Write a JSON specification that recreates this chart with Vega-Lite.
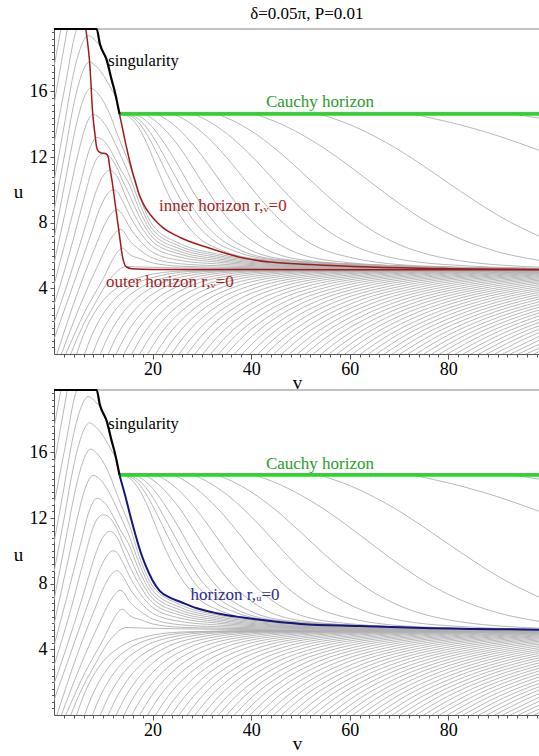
{
"$schema":"https://vega.github.io/schema/vega-lite/v6.json",
"autosize":{"type":"pad"},
"padding":{"left":13,"top":5,"right":0,"bottom":0},
"background":"white",
"config":{"view":{"stroke":null},"axis":{"grid":false,"domainColor":"#555","tickColor":"#555","labelFont":"Liberation Serif","labelFontSize":18,"labelColor":"#000","titleFont":"Liberation Serif","titleFontSize":19,"titleFontWeight":"normal","titleColor":"#000"}},
"datasets":{
"grey":[
{"k":"T1","v":0,"u":17.5},{"k":"T1","v":1.4,"u":19.8},{"k":"T1","v":1.7,"u":20.3},
{"k":"T2","v":0,"u":15.2},{"k":"T2","v":2.7,"u":19.8},{"k":"T2","v":3.0,"u":20.3},
{"k":"T3","v":0,"u":12.8},{"k":"T3","v":2.3,"u":16.4},{"k":"T3","v":4.4,"u":19.6},{"k":"T3","v":5.5,"u":20.3},
{"k":"H1","v":0,"u":10.5},{"k":"H1","v":2,"u":13.8},{"k":"H1","v":3.9,"u":17.0},{"k":"H1","v":5.1,"u":18.4},{"k":"H1","v":6.1,"u":19.15},{"k":"H1","v":6.9,"u":19.4},{"k":"H1","v":7.9,"u":19.25},{"k":"H1","v":8.8,"u":18.95},{"k":"H1","v":9.45,"u":18.78},
{"k":"H2","v":0,"u":8.7},{"k":"H2","v":2,"u":11.9},{"k":"H2","v":4.15,"u":15.4},{"k":"H2","v":5.35,"u":16.8},{"k":"H2","v":6.35,"u":17.55},{"k":"H2","v":7.15,"u":17.8},{"k":"H2","v":8.3,"u":17.6},{"k":"H2","v":9.5,"u":17.2},{"k":"H2","v":10.6,"u":16.7},{"k":"H2","v":11.6,"u":16.15},{"k":"H2","v":12.5,"u":15.7},
{"k":"H3","v":0,"u":7.0},{"k":"H3","v":2.2,"u":10.4},{"k":"H3","v":4.4,"u":13.8},{"k":"H3","v":5.6,"u":15.2},{"k":"H3","v":6.6,"u":15.95},{"k":"H3","v":7.4,"u":16.2},{"k":"H3","v":8.5,"u":16.0},{"k":"H3","v":9.7,"u":15.55},{"k":"H3","v":10.8,"u":14.95},{"k":"H3","v":11.8,"u":14.25},{"k":"H3","v":12.7,"u":13.5},{"k":"H3","v":13.5,"u":12.9},{"k":"H3","v":14.3,"u":12.3},{"k":"H3","v":15,"u":11.8},{"k":"H3","v":17.6,"u":9.4},{"k":"H3","v":20,"u":7.85},{"k":"H3","v":25.6,"u":6.72},{"k":"H3","v":33,"u":6.1},{"k":"H3","v":44,"u":5.66},{"k":"H3","v":62,"u":5.39},{"k":"H3","v":98.4,"u":5.195},
{"k":"H4","v":0,"u":5.5},{"k":"H4","v":2.4,"u":8.8},{"k":"H4","v":4.9,"u":12.2},{"k":"H4","v":6.1,"u":13.6},{"k":"H4","v":7.1,"u":14.35},{"k":"H4","v":7.9,"u":14.6},{"k":"H4","v":9.0,"u":14.45},{"k":"H4","v":10.2,"u":14.05},{"k":"H4","v":11.4,"u":13.45},{"k":"H4","v":12.6,"u":12.7},{"k":"H4","v":13.8,"u":11.9},{"k":"H4","v":15,"u":11.1},{"k":"H4","v":17.6,"u":9.0},{"k":"H4","v":20,"u":7.6},{"k":"H4","v":25.6,"u":6.56},{"k":"H4","v":33,"u":6.0},{"k":"H4","v":44,"u":5.61},{"k":"H4","v":62,"u":5.37},{"k":"H4","v":98.4,"u":5.19},
{"k":"H5","v":0,"u":4.2},{"k":"H5","v":2.8,"u":7.4},{"k":"H5","v":5.7,"u":10.8},{"k":"H5","v":6.9,"u":12.2},{"k":"H5","v":7.9,"u":12.95},{"k":"H5","v":8.7,"u":13.2},{"k":"H5","v":9.8,"u":13.05},{"k":"H5","v":11.0,"u":12.65},{"k":"H5","v":12.2,"u":12.0},{"k":"H5","v":13.6,"u":11.2},{"k":"H5","v":15,"u":10.5},{"k":"H5","v":17.6,"u":8.6},{"k":"H5","v":20,"u":7.35},{"k":"H5","v":25.6,"u":6.4},{"k":"H5","v":33,"u":5.9},{"k":"H5","v":44,"u":5.55},{"k":"H5","v":62,"u":5.34},{"k":"H5","v":98.4,"u":5.185},
{"k":"H6","v":0,"u":3.0},{"k":"H6","v":3.2,"u":6.2},{"k":"H6","v":6.2,"u":9.6},{"k":"H6","v":7.8,"u":11.3},{"k":"H6","v":8.9,"u":12.0},{"k":"H6","v":10.0,"u":12.2},{"k":"H6","v":11.0,"u":12.1},{"k":"H6","v":12.0,"u":11.75},{"k":"H6","v":13.0,"u":11.2},{"k":"H6","v":14.0,"u":10.5},{"k":"H6","v":15,"u":9.9},{"k":"H6","v":17.6,"u":8.2},{"k":"H6","v":20,"u":7.1},{"k":"H6","v":25.6,"u":6.24},{"k":"H6","v":33,"u":5.8},{"k":"H6","v":44,"u":5.5},{"k":"H6","v":62,"u":5.31},{"k":"H6","v":98.4,"u":5.18},
{"k":"H7","v":0,"u":1.9},{"k":"H7","v":3.5,"u":5.0},{"k":"H7","v":6.8,"u":8.2},{"k":"H7","v":8.3,"u":9.7},{"k":"H7","v":9.5,"u":10.6},{"k":"H7","v":10.5,"u":11.05},{"k":"H7","v":11.3,"u":11.2},{"k":"H7","v":12.2,"u":11.05},{"k":"H7","v":13.1,"u":10.65},{"k":"H7","v":14.0,"u":10.0},{"k":"H7","v":15,"u":9.3},{"k":"H7","v":17.6,"u":7.8},{"k":"H7","v":20,"u":6.85},{"k":"H7","v":25.6,"u":6.08},{"k":"H7","v":33,"u":5.7},{"k":"H7","v":44,"u":5.45},{"k":"H7","v":62,"u":5.29},{"k":"H7","v":98.4,"u":5.175},
{"k":"H8","v":0,"u":0.9},{"k":"H8","v":4,"u":4.3},{"k":"H8","v":7.5,"u":7.3},{"k":"H8","v":9.2,"u":8.8},{"k":"H8","v":10.5,"u":9.6},{"k":"H8","v":11.3,"u":9.9},{"k":"H8","v":12.0,"u":10.0},{"k":"H8","v":12.8,"u":9.9},{"k":"H8","v":13.6,"u":9.5},{"k":"H8","v":14.3,"u":9.1},{"k":"H8","v":15,"u":8.65},{"k":"H8","v":17.6,"u":7.35},{"k":"H8","v":20,"u":6.55},{"k":"H8","v":25.6,"u":5.9},{"k":"H8","v":33,"u":5.6},{"k":"H8","v":44,"u":5.4},{"k":"H8","v":62,"u":5.27},{"k":"H8","v":98.4,"u":5.17},
{"k":"H9","v":0.6,"u":0},{"k":"H9","v":4.5,"u":3.5},{"k":"H9","v":8.2,"u":6.4},{"k":"H9","v":10.3,"u":7.9},{"k":"H9","v":11.6,"u":8.55},{"k":"H9","v":12.7,"u":8.8},{"k":"H9","v":13.5,"u":8.65},{"k":"H9","v":14.3,"u":8.3},{"k":"H9","v":15,"u":7.9},{"k":"H9","v":17.6,"u":6.85},{"k":"H9","v":20,"u":6.2},{"k":"H9","v":25.6,"u":5.7},{"k":"H9","v":33,"u":5.49},{"k":"H9","v":44,"u":5.35},{"k":"H9","v":62,"u":5.25},{"k":"H9","v":98.4,"u":5.165},
{"k":"H10","v":1.5,"u":0},{"k":"H10","v":5.5,"u":3.1},{"k":"H10","v":9.2,"u":5.6},{"k":"H10","v":11.3,"u":6.9},{"k":"H10","v":12.5,"u":7.4},{"k":"H10","v":13.4,"u":7.6},{"k":"H10","v":14.2,"u":7.45},{"k":"H10","v":15,"u":7.05},{"k":"H10","v":17.6,"u":6.3},{"k":"H10","v":20,"u":5.85},{"k":"H10","v":25.6,"u":5.5},{"k":"H10","v":33,"u":5.38},{"k":"H10","v":44,"u":5.3},{"k":"H10","v":62,"u":5.23},{"k":"H10","v":98.4,"u":5.16},
{"k":"H11","v":2.4,"u":0},{"k":"H11","v":6.3,"u":2.6},{"k":"H11","v":10,"u":4.6},{"k":"H11","v":12,"u":5.8},{"k":"H11","v":13.1,"u":6.3},{"k":"H11","v":14.0,"u":6.45},{"k":"H11","v":14.6,"u":6.3},{"k":"H11","v":15.2,"u":6.1},{"k":"H11","v":17.6,"u":5.8},{"k":"H11","v":20,"u":5.55},{"k":"H11","v":25.6,"u":5.35},{"k":"H11","v":33,"u":5.29},{"k":"H11","v":44,"u":5.25},{"k":"H11","v":62,"u":5.21},{"k":"H11","v":98.4,"u":5.155},
{"k":"S","v":3.4,"u":0},{"k":"S","v":5.5,"u":1.5},{"k":"S","v":8,"u":2.9},{"k":"S","v":10.5,"u":4.2},{"k":"S","v":12.5,"u":4.95},{"k":"S","v":13.8,"u":5.25},{"k":"S","v":14.6,"u":5.33},{"k":"S","v":17.6,"u":5.3},{"k":"S","v":25.6,"u":5.25},{"k":"S","v":44,"u":5.2},{"k":"S","v":98.4,"u":5.15},
{"k":"B1","v":13.6,"u":14.6},{"k":"B1","v":14.6,"u":14.54},{"k":"B1","v":16,"u":14.25},{"k":"B1","v":17.5,"u":13.62},{"k":"B1","v":19,"u":12.72},{"k":"B1","v":21,"u":11.24},{"k":"B1","v":23,"u":9.84},{"k":"B1","v":25.6,"u":8.43},{"k":"B1","v":29,"u":7.17},{"k":"B1","v":34,"u":6.32},{"k":"B1","v":42,"u":5.76},{"k":"B1","v":62,"u":5.43},{"k":"B1","v":98.4,"u":5.2},
{"k":"B2","v":14.3,"u":14.6},{"k":"B2","v":15.5,"u":14.5},{"k":"B2","v":17,"u":14.16},{"k":"B2","v":19,"u":13.3},{"k":"B2","v":21,"u":12.17},{"k":"B2","v":23,"u":10.94},{"k":"B2","v":25.6,"u":9.46},{"k":"B2","v":28,"u":8.27},{"k":"B2","v":32,"u":7.0},{"k":"B2","v":37,"u":6.23},{"k":"B2","v":45,"u":5.73},{"k":"B2","v":62,"u":5.45},{"k":"B2","v":98.4,"u":5.2},
{"k":"B3","v":15.2,"u":14.6},{"k":"B3","v":16.5,"u":14.44},{"k":"B3","v":18,"u":14.07},{"k":"B3","v":20,"u":13.28},{"k":"B3","v":22,"u":12.25},{"k":"B3","v":24,"u":11.16},{"k":"B3","v":26,"u":10.06},{"k":"B3","v":29,"u":8.55},{"k":"B3","v":33,"u":7.2},{"k":"B3","v":38,"u":6.3},{"k":"B3","v":45,"u":5.77},{"k":"B3","v":62,"u":5.46},{"k":"B3","v":98.4,"u":5.2},
{"k":"B4","v":16.5,"u":14.6},{"k":"B4","v":18,"u":14.37},{"k":"B4","v":20,"u":13.81},{"k":"B4","v":22,"u":13.01},{"k":"B4","v":24,"u":12.08},{"k":"B4","v":26,"u":11.06},{"k":"B4","v":28,"u":10.0},{"k":"B4","v":31,"u":8.6},{"k":"B4","v":35,"u":7.24},{"k":"B4","v":40,"u":6.31},{"k":"B4","v":48,"u":5.72},{"k":"B4","v":65,"u":5.41},{"k":"B4","v":98.4,"u":5.2},
{"k":"B5","v":18.5,"u":14.6},{"k":"B5","v":20,"u":14.33},{"k":"B5","v":22,"u":13.82},{"k":"B5","v":24,"u":13.16},{"k":"B5","v":26,"u":12.37},{"k":"B5","v":29,"u":10.97},{"k":"B5","v":32,"u":9.57},{"k":"B5","v":36,"u":8.0},{"k":"B5","v":42,"u":6.55},{"k":"B5","v":50,"u":5.75},{"k":"B5","v":65,"u":5.42},{"k":"B5","v":98.4,"u":5.2},
{"k":"B6","v":21,"u":14.6},{"k":"B6","v":23,"u":14.25},{"k":"B6","v":26,"u":13.49},{"k":"B6","v":29,"u":12.47},{"k":"B6","v":32,"u":11.26},{"k":"B6","v":35,"u":9.98},{"k":"B6","v":39,"u":8.43},{"k":"B6","v":44,"u":7.03},{"k":"B6","v":50,"u":6.08},{"k":"B6","v":60,"u":5.56},{"k":"B6","v":75,"u":5.32},{"k":"B6","v":98.4,"u":5.2},
{"k":"B7","v":24.5,"u":14.6},{"k":"B7","v":27,"u":14.19},{"k":"B7","v":30,"u":13.51},{"k":"B7","v":34,"u":12.32},{"k":"B7","v":38,"u":10.88},{"k":"B7","v":42,"u":9.41},{"k":"B7","v":47,"u":7.84},{"k":"B7","v":52,"u":6.74},{"k":"B7","v":60,"u":5.89},{"k":"B7","v":75,"u":5.36},{"k":"B7","v":98.4,"u":5.21},
{"k":"B8","v":28.5,"u":14.6},{"k":"B8","v":31,"u":14.24},{"k":"B8","v":35,"u":13.44},{"k":"B8","v":40,"u":12.09},{"k":"B8","v":45,"u":10.48},{"k":"B8","v":50,"u":8.9},{"k":"B8","v":55,"u":7.62},{"k":"B8","v":60,"u":6.72},{"k":"B8","v":70,"u":5.78},{"k":"B8","v":85,"u":5.35},{"k":"B8","v":98.4,"u":5.22},
{"k":"B9","v":33.3,"u":14.6},{"k":"B9","v":36,"u":14.26},{"k":"B9","v":40,"u":13.59},{"k":"B9","v":45,"u":12.48},{"k":"B9","v":50,"u":11.15},{"k":"B9","v":55,"u":9.76},{"k":"B9","v":60,"u":8.49},{"k":"B9","v":65,"u":7.44},{"k":"B9","v":70,"u":6.67},{"k":"B9","v":80,"u":5.8},{"k":"B9","v":98.4,"u":5.29},
{"k":"B10","v":40.9,"u":14.6},{"k":"B10","v":45,"u":14.15},{"k":"B10","v":50,"u":13.41},{"k":"B10","v":55,"u":12.5},{"k":"B10","v":60,"u":11.43},{"k":"B10","v":65,"u":10.29},{"k":"B10","v":70,"u":9.18},{"k":"B10","v":75,"u":8.17},{"k":"B10","v":80,"u":7.35},{"k":"B10","v":90,"u":6.23},{"k":"B10","v":98.4,"u":5.71},
{"k":"B11","v":54,"u":14.6},{"k":"B11","v":60,"u":13.98},{"k":"B11","v":65,"u":13.27},{"k":"B11","v":70,"u":12.43},{"k":"B11","v":75,"u":11.45},{"k":"B11","v":80,"u":10.42},{"k":"B11","v":85,"u":9.41},{"k":"B11","v":90,"u":8.46},{"k":"B11","v":98.4,"u":7.18},
{"k":"B12","v":73,"u":14.6},{"k":"B12","v":80,"u":14.14},{"k":"B12","v":90,"u":13.3},{"k":"B12","v":98.4,"u":12.41},
{"k":"B13","v":93.6,"u":14.6},{"k":"B13","v":98.4,"u":14.37},
{"k":"L1","v":4.6,"u":0},{"k":"L1","v":5.95,"u":1.14},{"k":"L1","v":7.83,"u":2.32},{"k":"L1","v":9.98,"u":3.26},{"k":"L1","v":13.21,"u":4.11},{"k":"L1","v":18.05,"u":4.73},{"k":"L1","v":26.12,"u":5.06},{"k":"L1","v":42.26,"u":5.145},{"k":"L1","v":98.4,"u":5.15},
{"k":"L2","v":6.2,"u":0},{"k":"L2","v":7.67,"u":1.14},{"k":"L2","v":9.72,"u":2.32},{"k":"L2","v":12.06,"u":3.26},{"k":"L2","v":15.58,"u":4.11},{"k":"L2","v":20.85,"u":4.73},{"k":"L2","v":29.64,"u":5.06},{"k":"L2","v":47.22,"u":5.145},{"k":"L2","v":98.4,"u":5.15},
{"k":"L3","v":7.8,"u":0},{"k":"L3","v":9.39,"u":1.14},{"k":"L3","v":11.6,"u":2.32},{"k":"L3","v":14.14,"u":3.26},{"k":"L3","v":17.94,"u":4.11},{"k":"L3","v":23.65,"u":4.73},{"k":"L3","v":33.16,"u":5.06},{"k":"L3","v":52.18,"u":5.145},{"k":"L3","v":98.4,"u":5.15},
{"k":"L4","v":9.4,"u":0},{"k":"L4","v":11.11,"u":1.14},{"k":"L4","v":13.49,"u":2.32},{"k":"L4","v":16.22,"u":3.26},{"k":"L4","v":20.31,"u":4.11},{"k":"L4","v":26.45,"u":4.73},{"k":"L4","v":36.68,"u":5.06},{"k":"L4","v":57.14,"u":5.145},{"k":"L4","v":98.4,"u":5.15},
{"k":"L5","v":11,"u":0},{"k":"L5","v":12.83,"u":1.14},{"k":"L5","v":15.38,"u":2.32},{"k":"L5","v":18.3,"u":3.26},{"k":"L5","v":22.68,"u":4.11},{"k":"L5","v":29.25,"u":4.73},{"k":"L5","v":40.2,"u":5.06},{"k":"L5","v":62.1,"u":5.145},{"k":"L5","v":98.4,"u":5.15},
{"k":"L6","v":12.6,"u":0},{"k":"L6","v":14.55,"u":1.14},{"k":"L6","v":17.27,"u":2.32},{"k":"L6","v":20.38,"u":3.26},{"k":"L6","v":25.05,"u":4.11},{"k":"L6","v":32.05,"u":4.73},{"k":"L6","v":43.72,"u":5.06},{"k":"L6","v":67.06,"u":5.145},{"k":"L6","v":98.4,"u":5.15},
{"k":"L7","v":14.2,"u":0},{"k":"L7","v":16.27,"u":1.14},{"k":"L7","v":19.16,"u":2.32},{"k":"L7","v":22.46,"u":3.26},{"k":"L7","v":27.42,"u":4.11},{"k":"L7","v":34.85,"u":4.73},{"k":"L7","v":47.24,"u":5.06},{"k":"L7","v":72.02,"u":5.145},{"k":"L7","v":98.4,"u":5.15},
{"k":"L8","v":15.8,"u":0},{"k":"L8","v":17.99,"u":1.14},{"k":"L8","v":21.04,"u":2.32},{"k":"L8","v":24.54,"u":3.26},{"k":"L8","v":29.78,"u":4.11},{"k":"L8","v":37.65,"u":4.73},{"k":"L8","v":50.76,"u":5.06},{"k":"L8","v":76.98,"u":5.145},{"k":"L8","v":98.4,"u":5.15},
{"k":"L9","v":17.4,"u":0},{"k":"L9","v":19.71,"u":1.14},{"k":"L9","v":22.93,"u":2.32},{"k":"L9","v":26.62,"u":3.26},{"k":"L9","v":32.15,"u":4.11},{"k":"L9","v":40.45,"u":4.73},{"k":"L9","v":54.28,"u":5.06},{"k":"L9","v":81.94,"u":5.145},{"k":"L9","v":98.4,"u":5.15},
{"k":"L10","v":19,"u":0},{"k":"L10","v":21.43,"u":1.14},{"k":"L10","v":24.82,"u":2.32},{"k":"L10","v":28.7,"u":3.26},{"k":"L10","v":34.52,"u":4.11},{"k":"L10","v":43.25,"u":4.73},{"k":"L10","v":57.8,"u":5.06},{"k":"L10","v":86.9,"u":5.145},{"k":"L10","v":98.4,"u":5.15},
{"k":"L11","v":20.6,"u":0},{"k":"L11","v":23.15,"u":1.14},{"k":"L11","v":26.71,"u":2.32},{"k":"L11","v":30.78,"u":3.26},{"k":"L11","v":36.89,"u":4.11},{"k":"L11","v":46.05,"u":4.73},{"k":"L11","v":61.32,"u":5.06},{"k":"L11","v":91.86,"u":5.145},{"k":"L11","v":98.4,"u":5.15},
{"k":"L12","v":22.2,"u":0},{"k":"L12","v":24.87,"u":1.14},{"k":"L12","v":28.6,"u":2.32},{"k":"L12","v":32.86,"u":3.26},{"k":"L12","v":39.26,"u":4.11},{"k":"L12","v":48.85,"u":4.73},{"k":"L12","v":64.84,"u":5.06},{"k":"L12","v":96.82,"u":5.145},
{"k":"L13","v":23.8,"u":0},{"k":"L13","v":26.59,"u":1.14},{"k":"L13","v":30.48,"u":2.32},{"k":"L13","v":34.94,"u":3.26},{"k":"L13","v":41.62,"u":4.11},{"k":"L13","v":51.65,"u":4.73},{"k":"L13","v":68.36,"u":5.06},{"k":"L13","v":101.78,"u":5.145},
{"k":"L14","v":25.4,"u":0},{"k":"L14","v":28.31,"u":1.14},{"k":"L14","v":32.37,"u":2.32},{"k":"L14","v":37.02,"u":3.26},{"k":"L14","v":43.99,"u":4.11},{"k":"L14","v":54.45,"u":4.73},{"k":"L14","v":71.88,"u":5.06},{"k":"L14","v":106.74,"u":5.145},
{"k":"L15","v":27,"u":0},{"k":"L15","v":30.03,"u":1.14},{"k":"L15","v":34.26,"u":2.32},{"k":"L15","v":39.1,"u":3.26},{"k":"L15","v":46.36,"u":4.11},{"k":"L15","v":57.25,"u":4.73},{"k":"L15","v":75.4,"u":5.06},{"k":"L15","v":111.7,"u":5.145},
{"k":"L16","v":28.6,"u":0},{"k":"L16","v":31.75,"u":1.14},{"k":"L16","v":36.15,"u":2.32},{"k":"L16","v":41.18,"u":3.26},{"k":"L16","v":48.73,"u":4.11},{"k":"L16","v":60.05,"u":4.73},{"k":"L16","v":78.92,"u":5.06},{"k":"L16","v":116.66,"u":5.145},
{"k":"L17","v":30.2,"u":0},{"k":"L17","v":33.47,"u":1.14},{"k":"L17","v":38.04,"u":2.32},{"k":"L17","v":43.26,"u":3.26},{"k":"L17","v":51.1,"u":4.11},{"k":"L17","v":62.85,"u":4.73},{"k":"L17","v":82.44,"u":5.06},{"k":"L17","v":121.62,"u":5.145},
{"k":"L18","v":31.8,"u":0},{"k":"L18","v":35.19,"u":1.14},{"k":"L18","v":39.92,"u":2.32},{"k":"L18","v":45.34,"u":3.26},{"k":"L18","v":53.46,"u":4.11},{"k":"L18","v":65.65,"u":4.73},{"k":"L18","v":85.96,"u":5.06},{"k":"L18","v":126.58,"u":5.145},
{"k":"L19","v":33.4,"u":0},{"k":"L19","v":36.91,"u":1.14},{"k":"L19","v":41.81,"u":2.32},{"k":"L19","v":47.42,"u":3.26},{"k":"L19","v":55.83,"u":4.11},{"k":"L19","v":68.45,"u":4.73},{"k":"L19","v":89.48,"u":5.06},{"k":"L19","v":131.54,"u":5.145},
{"k":"L20","v":35,"u":0},{"k":"L20","v":38.63,"u":1.14},{"k":"L20","v":43.7,"u":2.32},{"k":"L20","v":49.5,"u":3.26},{"k":"L20","v":58.2,"u":4.11},{"k":"L20","v":71.25,"u":4.73},{"k":"L20","v":93,"u":5.06},{"k":"L20","v":136.5,"u":5.145},
{"k":"L21","v":36.6,"u":0},{"k":"L21","v":40.35,"u":1.14},{"k":"L21","v":45.59,"u":2.32},{"k":"L21","v":51.58,"u":3.26},{"k":"L21","v":60.57,"u":4.11},{"k":"L21","v":74.05,"u":4.73},{"k":"L21","v":96.52,"u":5.06},{"k":"L21","v":141.46,"u":5.145},
{"k":"L22","v":38.2,"u":0},{"k":"L22","v":42.07,"u":1.14},{"k":"L22","v":47.48,"u":2.32},{"k":"L22","v":53.66,"u":3.26},{"k":"L22","v":62.94,"u":4.11},{"k":"L22","v":76.85,"u":4.73},{"k":"L22","v":100.04,"u":5.06},
{"k":"L23","v":39.8,"u":0},{"k":"L23","v":43.79,"u":1.14},{"k":"L23","v":49.36,"u":2.32},{"k":"L23","v":55.74,"u":3.26},{"k":"L23","v":65.3,"u":4.11},{"k":"L23","v":79.65,"u":4.73},{"k":"L23","v":103.56,"u":5.06},
{"k":"L24","v":41.4,"u":0},{"k":"L24","v":45.51,"u":1.14},{"k":"L24","v":51.25,"u":2.32},{"k":"L24","v":57.82,"u":3.26},{"k":"L24","v":67.67,"u":4.11},{"k":"L24","v":82.45,"u":4.73},{"k":"L24","v":107.08,"u":5.06},
{"k":"L25","v":43,"u":0},{"k":"L25","v":47.23,"u":1.14},{"k":"L25","v":53.14,"u":2.32},{"k":"L25","v":59.9,"u":3.26},{"k":"L25","v":70.04,"u":4.11},{"k":"L25","v":85.25,"u":4.73},{"k":"L25","v":110.6,"u":5.06},
{"k":"L26","v":44.6,"u":0},{"k":"L26","v":48.95,"u":1.14},{"k":"L26","v":55.03,"u":2.32},{"k":"L26","v":61.98,"u":3.26},{"k":"L26","v":72.41,"u":4.11},{"k":"L26","v":88.05,"u":4.73},{"k":"L26","v":114.12,"u":5.06},
{"k":"L27","v":46.2,"u":0},{"k":"L27","v":50.67,"u":1.14},{"k":"L27","v":56.92,"u":2.32},{"k":"L27","v":64.06,"u":3.26},{"k":"L27","v":74.78,"u":4.11},{"k":"L27","v":90.85,"u":4.73},{"k":"L27","v":117.64,"u":5.06},
{"k":"L28","v":47.8,"u":0},{"k":"L28","v":52.39,"u":1.14},{"k":"L28","v":58.8,"u":2.32},{"k":"L28","v":66.14,"u":3.26},{"k":"L28","v":77.14,"u":4.11},{"k":"L28","v":93.65,"u":4.73},{"k":"L28","v":121.16,"u":5.06},
{"k":"L29","v":49.4,"u":0},{"k":"L29","v":54.1,"u":1.14},{"k":"L29","v":60.69,"u":2.32},{"k":"L29","v":68.22,"u":3.26},{"k":"L29","v":79.51,"u":4.11},{"k":"L29","v":96.45,"u":4.73},{"k":"L29","v":124.68,"u":5.06},
{"k":"L30","v":51,"u":0},{"k":"L30","v":55.83,"u":1.14},{"k":"L30","v":62.58,"u":2.32},{"k":"L30","v":70.3,"u":3.26},{"k":"L30","v":81.88,"u":4.11},{"k":"L30","v":99.25,"u":4.73},
{"k":"L31","v":52.6,"u":0},{"k":"L31","v":57.55,"u":1.14},{"k":"L31","v":64.47,"u":2.32},{"k":"L31","v":72.38,"u":3.26},{"k":"L31","v":84.25,"u":4.11},{"k":"L31","v":102.05,"u":4.73},
{"k":"L32","v":54.2,"u":0},{"k":"L32","v":59.27,"u":1.14},{"k":"L32","v":66.36,"u":2.32},{"k":"L32","v":74.46,"u":3.26},{"k":"L32","v":86.62,"u":4.11},{"k":"L32","v":104.85,"u":4.73},
{"k":"L33","v":55.8,"u":0},{"k":"L33","v":60.99,"u":1.14},{"k":"L33","v":68.24,"u":2.32},{"k":"L33","v":76.54,"u":3.26},{"k":"L33","v":88.98,"u":4.11},{"k":"L33","v":107.65,"u":4.73},
{"k":"L34","v":57.4,"u":0},{"k":"L34","v":62.71,"u":1.14},{"k":"L34","v":70.13,"u":2.32},{"k":"L34","v":78.62,"u":3.26},{"k":"L34","v":91.35,"u":4.11},{"k":"L34","v":110.45,"u":4.73},
{"k":"L35","v":59,"u":0},{"k":"L35","v":64.43,"u":1.14},{"k":"L35","v":72.02,"u":2.32},{"k":"L35","v":80.7,"u":3.26},{"k":"L35","v":93.72,"u":4.11},{"k":"L35","v":113.25,"u":4.73},
{"k":"L36","v":60.6,"u":0},{"k":"L36","v":66.15,"u":1.14},{"k":"L36","v":73.91,"u":2.32},{"k":"L36","v":82.78,"u":3.26},{"k":"L36","v":96.09,"u":4.11},{"k":"L36","v":116.05,"u":4.73},
{"k":"L37","v":62.2,"u":0},{"k":"L37","v":67.87,"u":1.14},{"k":"L37","v":75.8,"u":2.32},{"k":"L37","v":84.86,"u":3.26},{"k":"L37","v":98.46,"u":4.11},{"k":"L37","v":118.85,"u":4.73},
{"k":"L38","v":63.8,"u":0},{"k":"L38","v":69.59,"u":1.14},{"k":"L38","v":77.68,"u":2.32},{"k":"L38","v":86.94,"u":3.26},{"k":"L38","v":100.82,"u":4.11},
{"k":"L39","v":65.4,"u":0},{"k":"L39","v":71.31,"u":1.14},{"k":"L39","v":79.57,"u":2.32},{"k":"L39","v":89.02,"u":3.26},{"k":"L39","v":103.19,"u":4.11},
{"k":"L40","v":67,"u":0},{"k":"L40","v":73.03,"u":1.14},{"k":"L40","v":81.46,"u":2.32},{"k":"L40","v":91.1,"u":3.26},{"k":"L40","v":105.56,"u":4.11},
{"k":"L41","v":68.6,"u":0},{"k":"L41","v":74.75,"u":1.14},{"k":"L41","v":83.35,"u":2.32},{"k":"L41","v":93.18,"u":3.26},{"k":"L41","v":107.93,"u":4.11},
{"k":"L42","v":70.2,"u":0},{"k":"L42","v":76.47,"u":1.14},{"k":"L42","v":85.24,"u":2.32},{"k":"L42","v":95.26,"u":3.26},{"k":"L42","v":110.3,"u":4.11},
{"k":"L43","v":71.8,"u":0},{"k":"L43","v":78.19,"u":1.14},{"k":"L43","v":87.12,"u":2.32},{"k":"L43","v":97.34,"u":3.26},{"k":"L43","v":112.66,"u":4.11},
{"k":"L44","v":73.4,"u":0},{"k":"L44","v":79.9,"u":1.14},{"k":"L44","v":89.01,"u":2.32},{"k":"L44","v":99.42,"u":3.26},
{"k":"L45","v":75,"u":0},{"k":"L45","v":81.63,"u":1.14},{"k":"L45","v":90.9,"u":2.32},{"k":"L45","v":101.5,"u":3.26},
{"k":"L46","v":76.6,"u":0},{"k":"L46","v":83.35,"u":1.14},{"k":"L46","v":92.79,"u":2.32},{"k":"L46","v":103.58,"u":3.26},
{"k":"L47","v":78.2,"u":0},{"k":"L47","v":85.07,"u":1.14},{"k":"L47","v":94.68,"u":2.32},{"k":"L47","v":105.66,"u":3.26},
{"k":"L48","v":79.8,"u":0},{"k":"L48","v":86.79,"u":1.14},{"k":"L48","v":96.56,"u":2.32},{"k":"L48","v":107.74,"u":3.26},
{"k":"L49","v":81.4,"u":0},{"k":"L49","v":88.51,"u":1.14},{"k":"L49","v":98.45,"u":2.32},{"k":"L49","v":109.82,"u":3.26},
{"k":"L50","v":83,"u":0},{"k":"L50","v":90.23,"u":1.14},{"k":"L50","v":100.34,"u":2.32},
{"k":"L51","v":84.6,"u":0},{"k":"L51","v":91.95,"u":1.14},{"k":"L51","v":102.23,"u":2.32},
{"k":"L52","v":86.2,"u":0},{"k":"L52","v":93.67,"u":1.14},{"k":"L52","v":104.12,"u":2.32},
{"k":"L53","v":87.8,"u":0},{"k":"L53","v":95.39,"u":1.14},{"k":"L53","v":106.0,"u":2.32},
{"k":"L54","v":89.4,"u":0},{"k":"L54","v":97.11,"u":1.14},{"k":"L54","v":107.89,"u":2.32},
{"k":"L55","v":91,"u":0},{"k":"L55","v":98.83,"u":1.14},
{"k":"L56","v":92.6,"u":0},{"k":"L56","v":100.55,"u":1.14},
{"k":"L57","v":94.2,"u":0},{"k":"L57","v":102.27,"u":1.14},
{"k":"L58","v":95.8,"u":0},{"k":"L58","v":103.99,"u":1.14},
{"k":"L59","v":97.4,"u":0},{"k":"L59","v":105.7,"u":1.14}
],
"frame":[
{"k":"top","v":0,"u":19.8},{"k":"top","v":98.4,"u":19.8},
{"k":"ch2","v":13.3,"u":14.72},{"k":"ch2","v":98.4,"u":14.72}
],
"curves":[
{"k":"sing","v":0,"u":19.8},{"k":"sing","v":8.65,"u":19.8},{"k":"sing","v":9.3,"u":18.9},{"k":"sing","v":10.7,"u":17.9},{"k":"sing","v":11.7,"u":16.7},{"k":"sing","v":12.4,"u":15.9},{"k":"sing","v":13.3,"u":14.6},
{"k":"ch","v":13.3,"u":14.6},{"k":"ch","v":98.4,"u":14.6},
{"k":"ro","v":6.45,"u":19.8},{"k":"ro","v":7.0,"u":18.5},{"k":"ro","v":7.3,"u":17.5},{"k":"ro","v":7.8,"u":14.85},{"k":"ro","v":8.3,"u":13.4},{"k":"ro","v":8.65,"u":12.6},{"k":"ro","v":9.0,"u":12.35},{"k":"ro","v":9.6,"u":12.25},{"k":"ro","v":10.6,"u":12.2},{"k":"ro","v":11.0,"u":12.0},{"k":"ro","v":11.3,"u":11.4},{"k":"ro","v":11.8,"u":10.5},{"k":"ro","v":12.3,"u":9.4},{"k":"ro","v":12.8,"u":8.3},{"k":"ro","v":13.3,"u":7.2},{"k":"ro","v":13.8,"u":6.1},{"k":"ro","v":14.2,"u":5.55},{"k":"ro","v":14.7,"u":5.3},{"k":"ro","v":15.8,"u":5.2},{"k":"ro","v":20,"u":5.15},{"k":"ro","v":98.4,"u":5.13},
{"k":"ri","v":13.3,"u":14.6},{"k":"ri","v":14.0,"u":13.6},{"k":"ri","v":14.7,"u":12.6},{"k":"ri","v":15.4,"u":11.7},{"k":"ri","v":16.0,"u":11.0},{"k":"ri","v":16.6,"u":10.4},{"k":"ri","v":17.2,"u":9.8},{"k":"ri","v":18.2,"u":9.1},{"k":"ri","v":19.5,"u":8.5},{"k":"ri","v":21,"u":8.0},{"k":"ri","v":22.1,"u":7.7},{"k":"ri","v":25.6,"u":7.1},{"k":"ri","v":31,"u":6.5},{"k":"ri","v":37.7,"u":5.9},{"k":"ri","v":43.8,"u":5.6},{"k":"ri","v":52,"u":5.45},{"k":"ri","v":64,"u":5.3},{"k":"ri","v":80,"u":5.2},{"k":"ri","v":98.4,"u":5.15},
{"k":"bl","v":13.3,"u":14.6},{"k":"bl","v":14.5,"u":13.3},{"k":"bl","v":15.6,"u":12.0},{"k":"bl","v":16.6,"u":10.9},{"k":"bl","v":17.6,"u":9.9},{"k":"bl","v":18.6,"u":9.1},{"k":"bl","v":20,"u":8.2},{"k":"bl","v":21.5,"u":7.55},{"k":"bl","v":23.5,"u":7.15},{"k":"bl","v":25.6,"u":6.9},{"k":"bl","v":29,"u":6.5},{"k":"bl","v":33,"u":6.2},{"k":"bl","v":38,"u":5.95},{"k":"bl","v":44,"u":5.72},{"k":"bl","v":50,"u":5.55},{"k":"bl","v":62,"u":5.42},{"k":"bl","v":75,"u":5.3},{"k":"bl","v":98.4,"u":5.2}
]
},
"spacing":36,
"bounds":"flush",
"vconcat":[
{"width":485,"height":325,
"encoding":{
"x":{"field":"v","type":"quantitative","scale":{"domain":[0,98.4],"nice":false,"zero":false},"axis":{"values":[2,4,6,8,10,12,14,16,18,20,22,24,26,28,30,32,34,36,38,40,42,44,46,48,50,52,54,56,58,60,62,64,66,68,70,72,74,76,78,80,82,84,86,88,90,92,94,96,98],"labelExpr":"datum.value % 20 === 0 ? '' + datum.value : ''","tickSize":{"condition":{"test":"datum.value % 20 === 0","value":5},"value":3},"labelPadding":1.5,"title":"v","titleX":243,"titleY":28,"titleBaseline":"middle"}},
"y":{"field":"u","type":"quantitative","scale":{"domain":[0,19.8],"nice":false,"zero":false},"axis":{"values":[0.4,0.8,1.2,1.6,2,2.4,2.8,3.2,3.6,4,4.4,4.8,5.2,5.6,6,6.4,6.8,7.2,7.6,8,8.4,8.8,9.2,9.6,10,10.4,10.8,11.2,11.6,12,12.4,12.8,13.2,13.6,14,14.4,14.8,15.2,15.6,16,16.4,16.8,17.2,17.6,18,18.4,18.8,19.2,19.6],"labelExpr":"datum.value % 4 === 0 ? '' + datum.value : ''","tickSize":{"condition":{"test":"datum.value % 4 === 0","value":4},"value":2.5},"labelPadding":3,"title":"u","titleAngle":0,"titleX":-36,"titleY":162,"titleAlign":"center","titleBaseline":"middle"}}},
"layer":[
{"data":{"name":"grey"},"mark":{"type":"line","interpolate":"monotone","clip":true,"stroke":"#b0b0b0","strokeWidth":0.9},"encoding":{"detail":{"field":"k"}}},
{"data":{"name":"frame"},"mark":{"type":"line","stroke":"#777","strokeWidth":0.9},"encoding":{"detail":{"field":"k"}}},
{"data":{"name":"curves"},"transform":[{"filter":"datum.k=='ch'"}],"mark":{"type":"line","stroke":"#1de01d","strokeWidth":3},"encoding":{}},
{"data":{"name":"curves"},"transform":[{"filter":"datum.k=='ro' || datum.k=='ri'"}],"mark":{"type":"line","interpolate":"monotone","stroke":"#a01c1c","strokeWidth":1.5},"encoding":{"detail":{"field":"k"}}},
{"data":{"name":"curves"},"transform":[{"filter":"datum.k=='sing'"}],"mark":{"type":"line","interpolate":"monotone","stroke":"#000","strokeWidth":2.2},"encoding":{}},
{"data":{"values":[{"v":51.3,"u":20.7,"t":"δ=0.05π, P=0.01"}]},"mark":{"type":"text","align":"center","baseline":"middle","font":"Liberation Serif","fontSize":17,"color":"#000"},"encoding":{"text":{"field":"t"}}},
{"data":{"values":[{"v":11.0,"u":17.84,"t":"singularity"}]},"mark":{"type":"text","align":"left","baseline":"middle","font":"Liberation Serif","fontSize":16.5,"color":"#000"},"encoding":{"text":{"field":"t"}}},
{"data":{"values":[{"v":53.96,"u":15.37,"t":"Cauchy horizon"}]},"mark":{"type":"text","align":"center","baseline":"middle","font":"Liberation Serif","fontSize":17,"color":"#2a9d2a"},"encoding":{"text":{"field":"t"}}},
{"data":{"values":[{"v":21.3,"u":8.99,"t":"inner horizon r,ᵥ=0"},{"v":10.55,"u":4.36,"t":"outer horizon r,ᵥ=0"}]},"mark":{"type":"text","align":"left","baseline":"middle","font":"Liberation Serif","fontSize":17,"color":"#a31f1f"},"encoding":{"text":{"field":"t"}}}
]},
{"width":485,"height":325,
"encoding":{
"x":{"field":"v","type":"quantitative","scale":{"domain":[0,98.4],"nice":false,"zero":false},"axis":{"values":[2,4,6,8,10,12,14,16,18,20,22,24,26,28,30,32,34,36,38,40,42,44,46,48,50,52,54,56,58,60,62,64,66,68,70,72,74,76,78,80,82,84,86,88,90,92,94,96,98],"labelExpr":"datum.value % 20 === 0 ? '' + datum.value : ''","tickSize":{"condition":{"test":"datum.value % 20 === 0","value":5},"value":3},"labelPadding":1.5,"title":"v","titleX":243,"titleY":28,"titleBaseline":"middle"}},
"y":{"field":"u","type":"quantitative","scale":{"domain":[0,19.8],"nice":false,"zero":false},"axis":{"values":[0.4,0.8,1.2,1.6,2,2.4,2.8,3.2,3.6,4,4.4,4.8,5.2,5.6,6,6.4,6.8,7.2,7.6,8,8.4,8.8,9.2,9.6,10,10.4,10.8,11.2,11.6,12,12.4,12.8,13.2,13.6,14,14.4,14.8,15.2,15.6,16,16.4,16.8,17.2,17.6,18,18.4,18.8,19.2,19.6],"labelExpr":"datum.value % 4 === 0 ? '' + datum.value : ''","tickSize":{"condition":{"test":"datum.value % 4 === 0","value":4},"value":2.5},"labelPadding":3,"title":"u","titleAngle":0,"titleX":-36,"titleY":164,"titleAlign":"center","titleBaseline":"middle"}}},
"layer":[
{"data":{"name":"grey"},"mark":{"type":"line","interpolate":"monotone","clip":true,"stroke":"#b0b0b0","strokeWidth":0.9},"encoding":{"detail":{"field":"k"}}},
{"data":{"name":"frame"},"mark":{"type":"line","stroke":"#777","strokeWidth":0.9},"encoding":{"detail":{"field":"k"}}},
{"data":{"name":"curves"},"transform":[{"filter":"datum.k=='ch'"}],"mark":{"type":"line","stroke":"#1de01d","strokeWidth":3},"encoding":{}},
{"data":{"name":"curves"},"transform":[{"filter":"datum.k=='bl'"}],"mark":{"type":"line","interpolate":"monotone","stroke":"#16167c","strokeWidth":2},"encoding":{}},
{"data":{"name":"curves"},"transform":[{"filter":"datum.k=='sing'"}],"mark":{"type":"line","interpolate":"monotone","stroke":"#000","strokeWidth":2.2},"encoding":{}},
{"data":{"values":[{"v":11.0,"u":17.75,"t":"singularity"}]},"mark":{"type":"text","align":"left","baseline":"middle","font":"Liberation Serif","fontSize":16.5,"color":"#000"},"encoding":{"text":{"field":"t"}}},
{"data":{"values":[{"v":53.96,"u":15.32,"t":"Cauchy horizon"}]},"mark":{"type":"text","align":"center","baseline":"middle","font":"Liberation Serif","fontSize":17,"color":"#2a9d2a"},"encoding":{"text":{"field":"t"}}},
{"data":{"values":[{"v":27.7,"u":7.34,"t":"horizon r,ᵤ=0"}]},"mark":{"type":"text","align":"left","baseline":"middle","font":"Liberation Serif","fontSize":17,"color":"#2b2b8f"},"encoding":{"text":{"field":"t"}}}
]}
]
}
